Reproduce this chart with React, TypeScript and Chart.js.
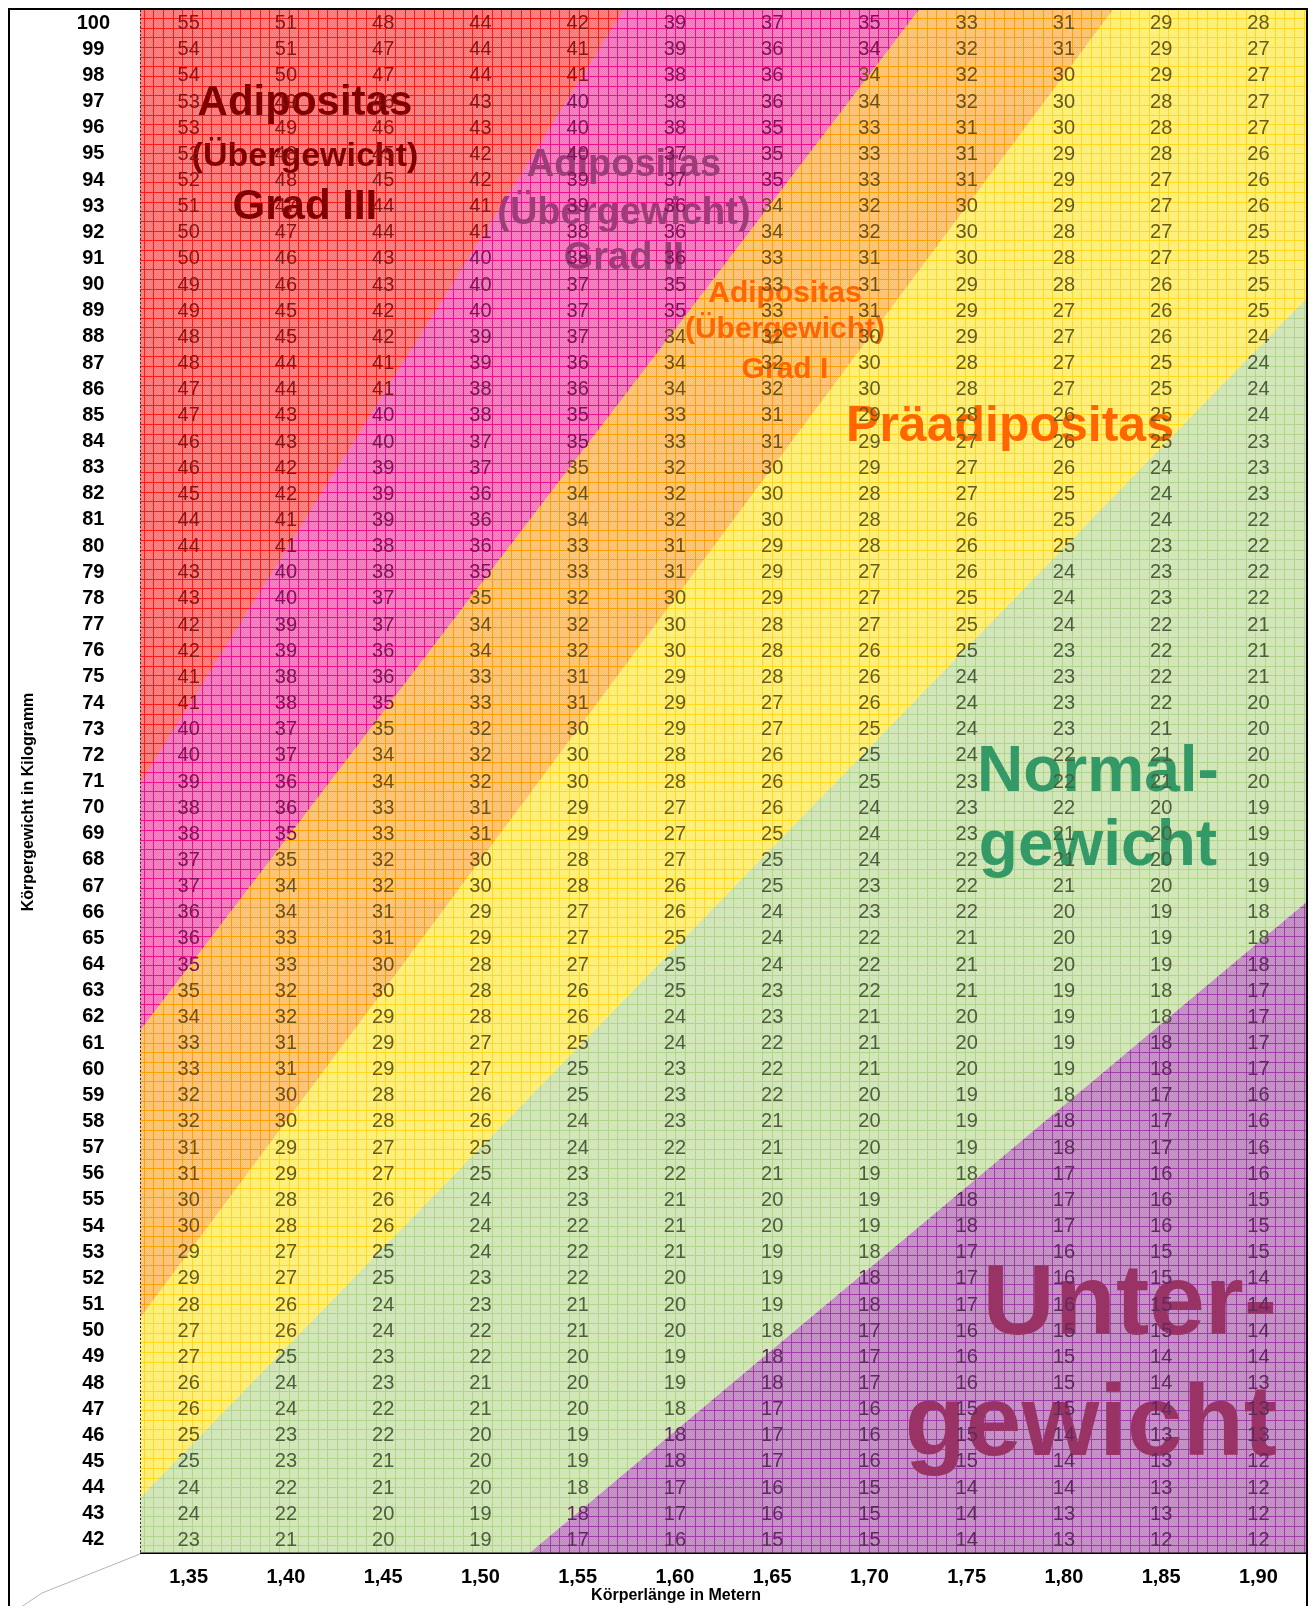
import React, { useEffect, useRef } from 'react';
import { Chart, registerables } from 'chart.js';

Chart.register(...registerables);

// ---------- data ----------
const heights = [1.35, 1.4, 1.45, 1.5, 1.55, 1.6, 1.65, 1.7, 1.75, 1.8, 1.85, 1.9];
const weights = [
  100, 99, 98, 97, 96, 95, 94, 93, 92, 91, 90, 89, 88, 87, 86, 85, 84, 83, 82, 81,
  80, 79, 78, 77, 76, 75, 74, 73, 72, 71, 70, 69, 68, 67, 66, 65, 64, 63, 62, 61,
  60, 59, 58, 57, 56, 55, 54, 53, 52, 51, 50, 49, 48, 47, 46, 45, 44, 43, 42,
];
// BMI values shown in the cells, one row per weight (100 kg at top), one column per height
const bmiRows = [
  [55, 51, 48, 44, 42, 39, 37, 35, 33, 31, 29, 28],
  [54, 51, 47, 44, 41, 39, 36, 34, 32, 31, 29, 27],
  [54, 50, 47, 44, 41, 38, 36, 34, 32, 30, 29, 27],
  [53, 49, 46, 43, 40, 38, 36, 34, 32, 30, 28, 27],
  [53, 49, 46, 43, 40, 38, 35, 33, 31, 30, 28, 27],
  [52, 48, 45, 42, 40, 37, 35, 33, 31, 29, 28, 26],
  [52, 48, 45, 42, 39, 37, 35, 33, 31, 29, 27, 26],
  [51, 47, 44, 41, 39, 36, 34, 32, 30, 29, 27, 26],
  [50, 47, 44, 41, 38, 36, 34, 32, 30, 28, 27, 25],
  [50, 46, 43, 40, 38, 36, 33, 31, 30, 28, 27, 25],
  [49, 46, 43, 40, 37, 35, 33, 31, 29, 28, 26, 25],
  [49, 45, 42, 40, 37, 35, 33, 31, 29, 27, 26, 25],
  [48, 45, 42, 39, 37, 34, 32, 30, 29, 27, 26, 24],
  [48, 44, 41, 39, 36, 34, 32, 30, 28, 27, 25, 24],
  [47, 44, 41, 38, 36, 34, 32, 30, 28, 27, 25, 24],
  [47, 43, 40, 38, 35, 33, 31, 29, 28, 26, 25, 24],
  [46, 43, 40, 37, 35, 33, 31, 29, 27, 26, 25, 23],
  [46, 42, 39, 37, 35, 32, 30, 29, 27, 26, 24, 23],
  [45, 42, 39, 36, 34, 32, 30, 28, 27, 25, 24, 23],
  [44, 41, 39, 36, 34, 32, 30, 28, 26, 25, 24, 22],
  [44, 41, 38, 36, 33, 31, 29, 28, 26, 25, 23, 22],
  [43, 40, 38, 35, 33, 31, 29, 27, 26, 24, 23, 22],
  [43, 40, 37, 35, 32, 30, 29, 27, 25, 24, 23, 22],
  [42, 39, 37, 34, 32, 30, 28, 27, 25, 24, 22, 21],
  [42, 39, 36, 34, 32, 30, 28, 26, 25, 23, 22, 21],
  [41, 38, 36, 33, 31, 29, 28, 26, 24, 23, 22, 21],
  [41, 38, 35, 33, 31, 29, 27, 26, 24, 23, 22, 20],
  [40, 37, 35, 32, 30, 29, 27, 25, 24, 23, 21, 20],
  [40, 37, 34, 32, 30, 28, 26, 25, 24, 22, 21, 20],
  [39, 36, 34, 32, 30, 28, 26, 25, 23, 22, 21, 20],
  [38, 36, 33, 31, 29, 27, 26, 24, 23, 22, 20, 19],
  [38, 35, 33, 31, 29, 27, 25, 24, 23, 21, 20, 19],
  [37, 35, 32, 30, 28, 27, 25, 24, 22, 21, 20, 19],
  [37, 34, 32, 30, 28, 26, 25, 23, 22, 21, 20, 19],
  [36, 34, 31, 29, 27, 26, 24, 23, 22, 20, 19, 18],
  [36, 33, 31, 29, 27, 25, 24, 22, 21, 20, 19, 18],
  [35, 33, 30, 28, 27, 25, 24, 22, 21, 20, 19, 18],
  [35, 32, 30, 28, 26, 25, 23, 22, 21, 19, 18, 17],
  [34, 32, 29, 28, 26, 24, 23, 21, 20, 19, 18, 17],
  [33, 31, 29, 27, 25, 24, 22, 21, 20, 19, 18, 17],
  [33, 31, 29, 27, 25, 23, 22, 21, 20, 19, 18, 17],
  [32, 30, 28, 26, 25, 23, 22, 20, 19, 18, 17, 16],
  [32, 30, 28, 26, 24, 23, 21, 20, 19, 18, 17, 16],
  [31, 29, 27, 25, 24, 22, 21, 20, 19, 18, 17, 16],
  [31, 29, 27, 25, 23, 22, 21, 19, 18, 17, 16, 16],
  [30, 28, 26, 24, 23, 21, 20, 19, 18, 17, 16, 15],
  [30, 28, 26, 24, 22, 21, 20, 19, 18, 17, 16, 15],
  [29, 27, 25, 24, 22, 21, 19, 18, 17, 16, 15, 15],
  [29, 27, 25, 23, 22, 20, 19, 18, 17, 16, 15, 14],
  [28, 26, 24, 23, 21, 20, 19, 18, 17, 16, 15, 14],
  [27, 26, 24, 22, 21, 20, 18, 17, 16, 15, 15, 14],
  [27, 25, 23, 22, 20, 19, 18, 17, 16, 15, 14, 14],
  [26, 24, 23, 21, 20, 19, 18, 17, 16, 15, 14, 13],
  [26, 24, 22, 21, 20, 18, 17, 16, 15, 15, 14, 13],
  [25, 23, 22, 20, 19, 18, 17, 16, 15, 14, 13, 13],
  [25, 23, 21, 20, 19, 18, 17, 16, 15, 14, 13, 12],
  [24, 22, 21, 20, 18, 17, 16, 15, 14, 14, 13, 12],
  [24, 22, 20, 19, 18, 17, 16, 15, 14, 13, 13, 12],
  [23, 21, 20, 19, 17, 16, 15, 15, 14, 13, 12, 12],
];

// Band boundaries (weight in kg) at the two heights in edgeHeights
const edgeHeights = [1.3, 1.95];
const edgeUnder = [27.46, 67.96]; // Untergewicht / Normalgewicht
const edgeNormal = [41.69, 91.41]; // Normalgewicht / Präadipositas
const edgePre = [48.0, 113.0]; // Präadipositas / Grad I
const edgeGrad1 = [59.04, 122.4]; // Grad I / Grad II
const edgeGrad2 = [67.95, 145.3]; // Grad II / Grad III
const edgeTop = [200, 200];
const floorWeight = 0;

const bandLabels = ['Untergewicht', 'Normalgewicht', 'Präadipositas', 'Adipositas Grad I', 'Adipositas Grad II', 'Adipositas Grad III'];
const bandEdges = [edgeUnder, edgeNormal, edgePre, edgeGrad1, edgeGrad2, edgeTop];

// ---------- styles ----------
const FONT = '"Liberation Sans", Arial, Helvetica, sans-serif';
const bandStyles = [
  { base: '#c99ac9', dither: '#bf88c1', line: '#a23cab', text: '#5e2a5e' },
  { base: '#d8e9c0', dither: '#cee3b3', line: '#b1d58b', text: '#4d5d3d' },
  { base: '#fff284', dither: '#ffec70', line: '#ffd820', text: '#645c1c' },
  { base: '#ffca84', dither: '#ffbe6c', line: '#ffa200', text: '#6c5218' },
  { base: '#f58ac6', dither: '#f272b8', line: '#f0108c', text: '#7a1454' },
  { base: '#ff8a8a', dither: '#ff7272', line: '#ff1a1a', text: '#841616' },
];

const annotations = [
  { text: 'Adipositas', h: 1.4098, w: 96.49, size: 42, color: '#800000', align: 'center' },
  { text: '(Übergewicht)', h: 1.4098, w: 94.54, size: 34, color: '#800000', align: 'center' },
  { text: 'Grad III', h: 1.4098, w: 92.51, size: 42, color: '#800000', align: 'center' },
  { text: 'Adipositas', h: 1.5738, w: 94.16, size: 38, color: '#9c3c78', align: 'center' },
  { text: '(Übergewicht)', h: 1.5738, w: 92.32, size: 38, color: '#9c3c78', align: 'center' },
  { text: 'Grad II', h: 1.5738, w: 90.6, size: 38, color: '#9c3c78', align: 'center' },
  { text: 'Adipositas', h: 1.6566, w: 89.34, size: 30, color: '#ff6600', align: 'center' },
  { text: '(Übergewicht)', h: 1.6566, w: 87.96, size: 30, color: '#ff6600', align: 'center' },
  { text: 'Grad I', h: 1.6566, w: 86.43, size: 30, color: '#ff6600', align: 'center' },
  { text: 'Präadipositas', h: 1.7723, w: 84.02, size: 50, color: '#ff6600', align: 'center' },
  { text: 'Normal-', h: 1.8175, w: 70.64, size: 64, color: '#339966', align: 'center' },
  { text: 'gewicht', h: 1.8175, w: 67.81, size: 64, color: '#339966', align: 'center' },
  { text: 'Unter-', h: 1.9096, w: 49.87, size: 100, color: '#993366', align: 'right' },
  { text: 'gewicht', h: 1.9096, w: 45.25, size: 100, color: '#993366', align: 'right' },
];

const W = 1300;
const H = 1606;

function edgeAt(edge: number[], h: number) {
  return edge[0] + ((edge[1] - edge[0]) * (h - edgeHeights[0])) / (edgeHeights[1] - edgeHeights[0]);
}

function bandAt(h: number, w: number) {
  for (let i = 0; i < bandEdges.length; i++) {
    if (w < edgeAt(bandEdges[i], h)) return i;
  }
  return bandEdges.length - 1;
}

function makePattern(ctx: CanvasRenderingContext2D, s: { base: string; dither: string; line: string }) {
  const size = 29;
  const c = document.createElement('canvas');
  c.width = size;
  c.height = size;
  const g = c.getContext('2d')!;
  g.fillStyle = s.base;
  g.fillRect(0, 0, size, size);
  g.fillStyle = s.dither;
  for (let y = 0; y < size; y++) {
    for (let x = y % 2; x < size; x += 2) g.fillRect(x, y, 1, 1);
  }
  g.fillStyle = s.line;
  for (const p of [0, 10, 20]) {
    g.fillRect(p, 0, 1, size);
    g.fillRect(0, p, size, 1);
  }
  return ctx.createPattern(c, 'repeat')!;
}

const overlayPlugin = {
  id: 'bmiOverlay',
  afterDatasetsDraw(chart: any) {
    const { ctx, chartArea: a } = chart;
    const xs = chart.scales.x;
    const ys = chart.scales.y;
    ctx.save();
    ctx.beginPath();
    ctx.rect(a.left, a.top, a.right - a.left, a.bottom - a.top);
    ctx.clip();
    // category labels
    ctx.textBaseline = 'alphabetic';
    for (const l of annotations) {
      ctx.font = `bold ${l.size}px ${FONT}`;
      ctx.fillStyle = l.color;
      ctx.textAlign = l.align;
      ctx.fillText(l.text, xs.getPixelForValue(l.h), ys.getPixelForValue(l.w));
    }
    // cell values
    ctx.font = `20px ${FONT}`;
    ctx.textAlign = 'center';
    ctx.textBaseline = 'middle';
    weights.forEach((w, r) => {
      heights.forEach((h, c) => {
        ctx.fillStyle = bandStyles[bandAt(h, w)].text;
        ctx.fillText(String(bmiRows[r][c]), xs.getPixelForValue(h), ys.getPixelForValue(w) + 0.5);
      });
    });
    ctx.restore();

    // plot borders
    ctx.save();
    ctx.fillStyle = '#000';
    ctx.fillRect(a.left, a.bottom - 0.5, a.right - a.left, 1.5);
    ctx.strokeStyle = '#333';
    ctx.lineWidth = 1;
    ctx.setLineDash([2, 2]);
    ctx.beginPath();
    ctx.moveTo(a.left + 0.5, a.top);
    ctx.lineTo(a.left + 0.5, a.bottom);
    ctx.stroke();
    ctx.setLineDash([]);
    // floor edge
    ctx.strokeStyle = '#b4b4b4';
    ctx.beginPath();
    ctx.moveTo(a.left, a.bottom + 1);
    ctx.lineTo(a.left - 98, a.bottom + 40);
    ctx.lineTo(a.left - 140, a.bottom + 68);
    ctx.stroke();
    ctx.restore();
  },
  afterDraw(chart: any) {
    const { ctx, chartArea: a } = chart;
    ctx.save();
    // frame
    ctx.fillStyle = '#000';
    ctx.fillRect(0, 0, 2, H);
    ctx.fillRect(0, 0, W, 2);
    ctx.fillRect(W - 2, 0, 2, H);
    // axis titles
    ctx.font = `bold 16px ${FONT}`;
    ctx.fillStyle = '#000';
    ctx.textAlign = 'center';
    ctx.textBaseline = 'middle';
    ctx.fillText('Körperlänge in Metern', a.left + 536, a.bottom + 43);
    ctx.translate(21, a.top + 792);
    ctx.rotate(-Math.PI / 2);
    ctx.fillText('Körpergewicht in Kilogramm', 0, 0);
    ctx.restore();
  },
};

export default function App() {
  const ref = useRef<HTMLCanvasElement>(null);

  useEffect(() => {
    const canvas = ref.current!;
    const ctx = canvas.getContext('2d')!;
    const datasets = bandEdges.map((edge, i) => ({
      label: bandLabels[i],
      data: [
        { x: edgeHeights[0], y: edge[0] },
        { x: edgeHeights[1], y: edge[1] },
        { x: edgeHeights[1], y: floorWeight },
        { x: edgeHeights[0], y: floorWeight },
      ],
      fill: 'shape',
      backgroundColor: makePattern(ctx, bandStyles[i]),
      borderColor: 'rgba(0,0,0,0)',
      borderWidth: 0,
      pointRadius: 0,
      pointHoverRadius: 0,
      tension: 0,
    }));

    const chart = new Chart(canvas, {
      type: 'line',
      data: { datasets } as any,
      options: {
        animation: false,
        responsive: false,
        events: [],
        layout: { padding: { top: 2, right: 1, left: 0, bottom: 0 } },
        plugins: { legend: { display: false }, tooltip: { enabled: false }, title: { display: false } },
        scales: {
          x: {
            type: 'linear',
            min: 1.325,
            max: 1.925,
            afterBuildTicks: (s: any) => {
              s.ticks = heights.map((v) => ({ value: v }));
            },
            afterFit: (s: any) => {
              s.height = H - 1545;
              s.paddingLeft = 0;
              s.paddingRight = 0;
              s.paddingTop = 0;
              s.paddingBottom = 0;
            },
            grid: { display: false, drawTicks: false },
            border: { display: false },
            ticks: {
              autoSkip: false,
              maxRotation: 0,
              minRotation: 0,
              padding: 12,
              color: '#000',
              font: { family: FONT, size: 20, weight: 'bold' },
              callback: (v: any) => Number(v).toFixed(2).replace('.', ','),
            },
          },
          y: {
            type: 'linear',
            min: 41.5,
            max: 100.5,
            afterBuildTicks: (s: any) => {
              s.ticks = weights.map((v) => ({ value: v }));
            },
            afterFit: (s: any) => {
              s.width = 132;
              s.paddingLeft = 0;
              s.paddingRight = 0;
              s.paddingTop = 0;
              s.paddingBottom = 0;
            },
            grid: { display: false, drawTicks: false },
            border: { display: false },
            ticks: {
              autoSkip: false,
              padding: 30,
              crossAlign: 'center',
              color: '#000',
              font: { family: FONT, size: 20, weight: 'bold' },
              callback: (v: any) => String(v),
            },
          },
        },
      } as any,
      plugins: [overlayPlugin as any],
    });
    return () => chart.destroy();
  }, []);

  return (
    <div style={{ width: W, height: H - 8 }}>
      <canvas ref={ref} width={W} height={H} style={{ display: 'block', width: W, height: H }} />
    </div>
  );
}
